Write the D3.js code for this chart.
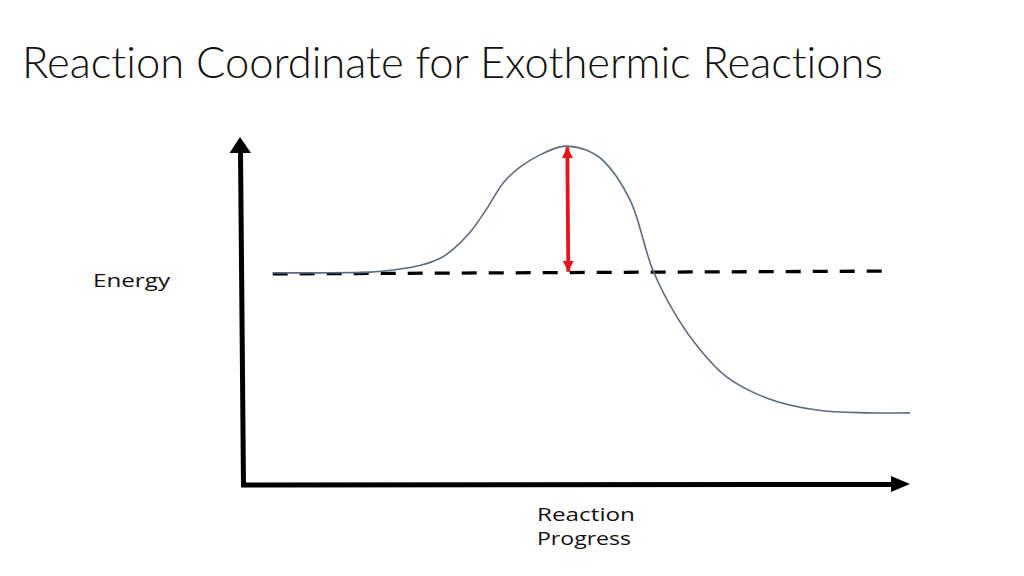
<!DOCTYPE html>
<html>
<head>
<meta charset="utf-8">
<script src="https://cdn.jsdelivr.net/npm/d3@7"></script>
<style>
  html, body { margin: 0; padding: 0; background: #fff; }
  svg { display: block; }
</style>
</head>
<body>
<svg id="chart" width="1024" height="576"></svg>
<script>
// ---- data ----
const titleText = "Reaction Coordinate for Exothermic Reactions";
const yLabel = "Energy";
const xLabelLines = ["Reaction", "Progress"];

// reaction progress (0-100) and energy (arbitrary units 0-100)
const progress = [4.6, 11.7, 19.2, 22.6, 26.6, 29.6, 31.6, 34.1, 36.7, 39.1, 41.6, 44.6, 47.6, 48.7, 51.5, 54.0, 58.1, 61.5, 65.1, 68.6, 72.6, 78.6, 86.1, 93.6, 100];
const energy   = [60.9, 60.9, 61.1, 61.7, 63.0, 65.0, 67.6, 72.4, 79.4, 86.6, 91.1, 94.6, 96.9, 97.1, 96.0, 93.1, 81.7, 61.7, 48.3, 38.9, 31.1, 25.1, 21.7, 20.9, 20.9];

const reactantLineX = [4.6, 96.0];
const reactantLineE = [60.6, 61.4];
const activationX = 48.7;
const peakEnergy = 97.1;
const reactantEnergy = 60.9;

// ---- scales ----
const svg = d3.select("#chart");
const x = d3.scaleLinear().domain([0, 100]).range([242, 910]);
const y = d3.scaleLinear().domain([0, 100]).range([486, 136]);

// title
svg.append("text")
  .attr("x", 22).attr("y", 78)
  .attr("font-family", "Lato, 'Open Sans', sans-serif")
  .attr("font-weight", 300)
  .attr("font-size", 43)
  .attr("fill", "#111")
  .style("font-variant-ligatures", "none")
  .attr("textLength", 861)
  .attr("lengthAdjust", "spacingAndGlyphs")
  .text(titleText);

// axes
const axisG = svg.append("g");
axisG.append("line")
  .attr("x1", x(0) - 1.5).attr("y1", y(100) + 14)
  .attr("x2", x(0) + 1.5).attr("y2", y(-0.3))
  .attr("stroke", "#000").attr("stroke-width", 5);
axisG.append("path")
  .attr("d", d3.line()([[x(0) - 12.5, y(100) + 17], [x(0) - 2, y(100) + 1], [x(0) + 9, y(100) + 17]]) + "Z")
  .attr("fill", "#000");

axisG.append("line")
  .attr("x1", x(0) - 1).attr("y1", y(0) - 1)
  .attr("x2", x(100) - 18).attr("y2", y(0) - 1.5)
  .attr("stroke", "#000").attr("stroke-width", 5);
axisG.append("path")
  .attr("d", d3.line()([[x(100) - 19, y(0) - 10], [x(100), y(0) - 2], [x(100) - 19, y(0) + 6]]) + "Z")
  .attr("fill", "#000");

// dashed reactant level
svg.append("line")
  .attr("x1", x(reactantLineX[0])).attr("y1", y(reactantLineE[0]))
  .attr("x2", x(reactantLineX[1])).attr("y2", y(reactantLineE[1]))
  .attr("stroke", "#000").attr("stroke-width", 3.3)
  .attr("stroke-dasharray", "15 12");

// energy curve
const pts = progress.map((p, i) => [x(p), y(energy[i])]);
svg.append("path")
  .attr("d", d3.line().curve(d3.curveCatmullRom.alpha(0.5))(pts))
  .attr("fill", "none")
  .attr("stroke", "#5b6b80")
  .attr("stroke-width", 1.6);

// red activation arrow
const defs = svg.append("defs");
defs.append("marker")
  .attr("id", "redHead")
  .attr("viewBox", "0 0 10 10")
  .attr("refX", 10).attr("refY", 5)
  .attr("markerUnits", "userSpaceOnUse")
  .attr("markerWidth", 11).attr("markerHeight", 13)
  .attr("orient", "auto-start-reverse")
  .append("path").attr("d", "M0,0 L10,5 L0,10 Z").attr("fill", "#e8141b");

svg.append("line")
  .attr("x1", x(activationX)).attr("y1", y(peakEnergy) + 1)
  .attr("x2", x(activationX) + 1).attr("y2", y(reactantEnergy) - 1)
  .attr("stroke", "#e8141b").attr("stroke-width", 3.8)
  .attr("marker-start", "url(#redHead)")
  .attr("marker-end", "url(#redHead)");

// labels
svg.append("text")
  .attr("x", 93).attr("y", 287)
  .attr("font-family", "'Open Sans', sans-serif")
  .attr("font-size", 18)
  .attr("fill", "#111")
  .attr("textLength", 77)
  .attr("lengthAdjust", "spacingAndGlyphs")
  .text(yLabel);

svg.append("text")
  .attr("x", 537).attr("y", 521)
  .attr("font-family", "'Open Sans', sans-serif")
  .attr("font-size", 18)
  .attr("fill", "#111")
  .attr("textLength", 98)
  .attr("lengthAdjust", "spacingAndGlyphs")
  .text(xLabelLines[0]);
svg.append("text")
  .attr("x", 537).attr("y", 545)
  .attr("font-family", "'Open Sans', sans-serif")
  .attr("font-size", 18)
  .attr("fill", "#111")
  .attr("textLength", 94)
  .attr("lengthAdjust", "spacingAndGlyphs")
  .text(xLabelLines[1]);
</script>
</body>
</html>
